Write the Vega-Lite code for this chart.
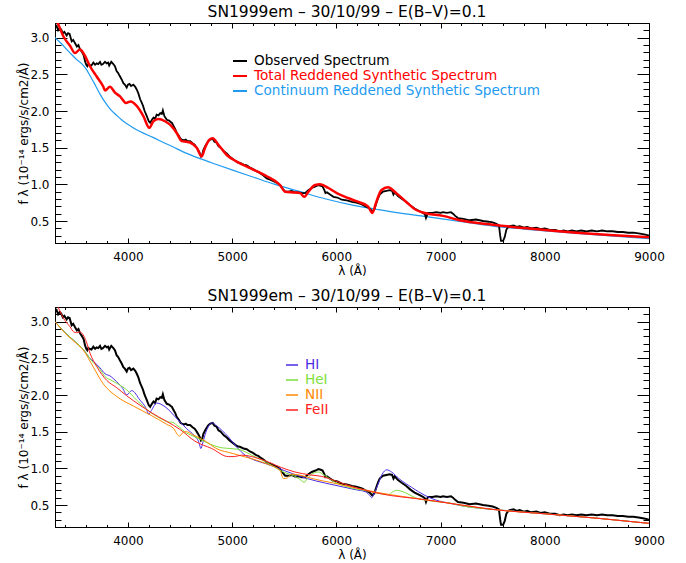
{
 "$schema": "https://vega.github.io/schema/vega-lite/v6.json",
 "padding": {"left": 16, "top": 4, "right": 5, "bottom": 5},
 "spacing": 64,
 "bounds": "flush",
 "resolve": {"scale": {"color": "independent"}, "legend": {"color": "independent"}},
 "config": {
  "font": "DejaVu Sans",
  "view": {"stroke": "#000", "strokeWidth": 1},
  "axis": {"labelFont": "DejaVu Sans", "labelFontSize": 12, "labelColor": "#000", "titleFont": "DejaVu Sans", "titleFontSize": 12, "titleFontWeight": "normal", "titleColor": "#000", "domain": true, "domainColor": "#000", "domainWidth": 1, "ticks": true, "tickColor": "#000", "tickWidth": 1, "grid": false, "tickSize": 5, "labelFlush": false, "labelOverlap": false, "labelBound": false},
  "title": {"font": "DejaVu Sans", "fontSize": 15.5, "fontWeight": "normal", "color": "#000", "offset": 2, "dx": -5},
  "legend": {"orient": "none", "title": null, "symbolType": "stroke", "symbolStrokeWidth": 2, "labelFont": "DejaVu Sans", "labelFontSize": 13.6, "labelOffset": 6, "labelLimit": 0, "rowPadding": -1, "padding": 0}
 },
 "datasets": {
  "obs": [
   {"w":3300,"f":3.14},{"w":3315,"f":3.16},{"w":3330,"f":3.10},{"w":3345,"f":3.13},{"w":3360,"f":3.11},{"w":3375,"f":3.06},{"w":3390,"f":3.08},{"w":3412,"f":3.03},{"w":3425,"f":3.06},{"w":3440,"f":3.05},{"w":3460,"f":2.95},{"w":3475,"f":2.97},{"w":3490,"f":2.93},{"w":3510,"f":2.88},{"w":3525,"f":2.90},{"w":3540,"f":2.84},{"w":3560,"f":2.80},{"w":3575,"f":2.76},{"w":3588,"f":2.68},{"w":3600,"f":2.63},{"w":3610,"f":2.61},{"w":3620,"f":2.64},{"w":3630,"f":2.63},{"w":3650,"f":2.62},{"w":3668,"f":2.66},{"w":3685,"f":2.63},{"w":3700,"f":2.65},{"w":3715,"f":2.64},{"w":3732,"f":2.67},{"w":3745,"f":2.63},{"w":3760,"f":2.64},{"w":3780,"f":2.67},{"w":3796,"f":2.65},{"w":3810,"f":2.66},{"w":3820,"f":2.62},{"w":3840,"f":2.67},{"w":3860,"f":2.64},{"w":3875,"f":2.61},{"w":3892,"f":2.54},{"w":3905,"f":2.52},{"w":3920,"f":2.48},{"w":3940,"f":2.43},{"w":3956,"f":2.38},{"w":3970,"f":2.36},{"w":3988,"f":2.32},{"w":4000,"f":2.36},{"w":4015,"f":2.37},{"w":4030,"f":2.34},{"w":4052,"f":2.36},{"w":4070,"f":2.33},{"w":4085,"f":2.29},{"w":4100,"f":2.24},{"w":4117,"f":2.16},{"w":4130,"f":2.12},{"w":4145,"f":2.07},{"w":4160,"f":2.00},{"w":4181,"f":1.93},{"w":4200,"f":1.86},{"w":4213,"f":1.84},{"w":4230,"f":1.88},{"w":4245,"f":1.91},{"w":4260,"f":1.89},{"w":4275,"f":1.95},{"w":4293,"f":1.94},{"w":4310,"f":1.97},{"w":4325,"f":1.96},{"w":4335,"f":2.01},{"w":4350,"f":1.93},{"w":4373,"f":1.88},{"w":4395,"f":1.87},{"w":4410,"f":1.85},{"w":4421,"f":1.84},{"w":4440,"f":1.79},{"w":4455,"f":1.75},{"w":4469,"f":1.70},{"w":4490,"f":1.66},{"w":4505,"f":1.62},{"w":4517,"f":1.61},{"w":4540,"f":1.60},{"w":4555,"f":1.61},{"w":4570,"f":1.59},{"w":4596,"f":1.59},{"w":4620,"f":1.56},{"w":4640,"f":1.54},{"w":4660,"f":1.50},{"w":4685,"f":1.44},{"w":4701,"f":1.38},{"w":4712,"f":1.40},{"w":4724,"f":1.47},{"w":4745,"f":1.53},{"w":4772,"f":1.59},{"w":4790,"f":1.61},{"w":4813,"f":1.62},{"w":4830,"f":1.58},{"w":4850,"f":1.57},{"w":4868,"f":1.52},{"w":4890,"f":1.50},{"w":4920,"f":1.45},{"w":4948,"f":1.42},{"w":4975,"f":1.38},{"w":5012,"f":1.34},{"w":5030,"f":1.32},{"w":5050,"f":1.30},{"w":5080,"f":1.29},{"w":5110,"f":1.27},{"w":5140,"f":1.26},{"w":5170,"f":1.23},{"w":5200,"f":1.21},{"w":5230,"f":1.18},{"w":5250,"f":1.17},{"w":5268,"f":1.15},{"w":5300,"f":1.12},{"w":5332,"f":1.08},{"w":5370,"f":1.06},{"w":5400,"f":1.04},{"w":5430,"f":1.02},{"w":5460,"f":0.99},{"w":5485,"f":0.94},{"w":5508,"f":0.90},{"w":5540,"f":0.90},{"w":5570,"f":0.91},{"w":5600,"f":0.89},{"w":5640,"f":0.89},{"w":5668,"f":0.88},{"w":5700,"f":0.88},{"w":5730,"f":0.92},{"w":5764,"f":0.95},{"w":5800,"f":0.97},{"w":5828,"f":0.99},{"w":5850,"f":0.98},{"w":5868,"f":0.97},{"w":5885,"f":0.92},{"w":5895,"f":0.88},{"w":5910,"f":0.89},{"w":5940,"f":0.86},{"w":5972,"f":0.83},{"w":6010,"f":0.82},{"w":6052,"f":0.79},{"w":6100,"f":0.78},{"w":6150,"f":0.76},{"w":6191,"f":0.75},{"w":6240,"f":0.73},{"w":6280,"f":0.70},{"w":6320,"f":0.67},{"w":6345,"f":0.63},{"w":6365,"f":0.66},{"w":6383,"f":0.74},{"w":6400,"f":0.81},{"w":6416,"f":0.86},{"w":6448,"f":0.90},{"w":6480,"f":0.91},{"w":6512,"f":0.92},{"w":6535,"f":0.91},{"w":6548,"f":0.86},{"w":6560,"f":0.89},{"w":6591,"f":0.84},{"w":6630,"f":0.80},{"w":6671,"f":0.76},{"w":6710,"f":0.71},{"w":6751,"f":0.67},{"w":6790,"f":0.64},{"w":6831,"f":0.61},{"w":6850,"f":0.59},{"w":6860,"f":0.54},{"w":6870,"f":0.58},{"w":6879,"f":0.61},{"w":6920,"f":0.61},{"w":6959,"f":0.62},{"w":7000,"f":0.61},{"w":7023,"f":0.62},{"w":7060,"f":0.61},{"w":7100,"f":0.62},{"w":7119,"f":0.60},{"w":7140,"f":0.57},{"w":7167,"f":0.54},{"w":7220,"f":0.53},{"w":7279,"f":0.51},{"w":7340,"f":0.52},{"w":7407,"f":0.50},{"w":7460,"f":0.49},{"w":7500,"f":0.48},{"w":7535,"f":0.46},{"w":7560,"f":0.44},{"w":7572,"f":0.30},{"w":7580,"f":0.23},{"w":7600,"f":0.23},{"w":7615,"f":0.28},{"w":7631,"f":0.38},{"w":7650,"f":0.42},{"w":7663,"f":0.43},{"w":7700,"f":0.44},{"w":7730,"f":0.42},{"w":7759,"f":0.43},{"w":7800,"f":0.41},{"w":7830,"f":0.42},{"w":7870,"f":0.40},{"w":7919,"f":0.41},{"w":7960,"f":0.39},{"w":8000,"f":0.40},{"w":8047,"f":0.38},{"w":8100,"f":0.38},{"w":8143,"f":0.36},{"w":8180,"f":0.37},{"w":8220,"f":0.36},{"w":8260,"f":0.37},{"w":8303,"f":0.36},{"w":8350,"f":0.37},{"w":8400,"f":0.36},{"w":8450,"f":0.37},{"w":8500,"f":0.36},{"w":8550,"f":0.37},{"w":8600,"f":0.36},{"w":8650,"f":0.36},{"w":8700,"f":0.35},{"w":8750,"f":0.35},{"w":8800,"f":0.34},{"w":8850,"f":0.34},{"w":8900,"f":0.33},{"w":8940,"f":0.32},{"w":8975,"f":0.31},{"w":9000,"f":0.30}
  ],
  "tot": [
   {"w":3310,"f":3.25},{"w":3332,"f":3.18},{"w":3380,"f":3.02},{"w":3444,"f":2.89},{"w":3492,"f":2.79},{"w":3540,"f":2.84},{"w":3588,"f":2.75},{"w":3636,"f":2.61},{"w":3700,"f":2.47},{"w":3764,"f":2.33},{"w":3780,"f":2.28},{"w":3828,"f":2.33},{"w":3876,"f":2.25},{"w":3924,"f":2.20},{"w":3981,"f":2.11},{"w":4026,"f":2.13},{"w":4084,"f":2.07},{"w":4148,"f":1.93},{"w":4205,"f":1.77},{"w":4244,"f":1.86},{"w":4292,"f":1.89},{"w":4356,"f":1.86},{"w":4420,"f":1.79},{"w":4468,"f":1.70},{"w":4516,"f":1.59},{"w":4560,"f":1.58},{"w":4596,"f":1.57},{"w":4660,"f":1.50},{"w":4708,"f":1.38},{"w":4740,"f":1.50},{"w":4782,"f":1.61},{"w":4813,"f":1.63},{"w":4868,"f":1.54},{"w":4948,"f":1.40},{"w":5044,"f":1.31},{"w":5172,"f":1.22},{"w":5332,"f":1.11},{"w":5460,"f":0.99},{"w":5508,"f":0.90},{"w":5588,"f":0.89},{"w":5652,"f":0.88},{"w":5692,"f":0.83},{"w":5732,"f":0.90},{"w":5796,"f":0.99},{"w":5844,"f":1.00},{"w":5924,"f":0.95},{"w":6004,"f":0.88},{"w":6068,"f":0.84},{"w":6191,"f":0.77},{"w":6303,"f":0.70},{"w":6345,"f":0.61},{"w":6383,"f":0.76},{"w":6431,"f":0.92},{"w":6495,"f":0.96},{"w":6575,"f":0.88},{"w":6671,"f":0.76},{"w":6767,"f":0.65},{"w":6847,"f":0.61},{"w":7023,"f":0.57},{"w":7183,"f":0.51},{"w":7503,"f":0.45},{"w":7823,"f":0.40},{"w":8303,"f":0.34},{"w":8623,"f":0.31},{"w":9000,"f":0.28}
  ],
  "cont": [
   {"w":3300,"f":3.00},{"w":3360,"f":2.92},{"w":3412,"f":2.84},{"w":3460,"f":2.77},{"w":3508,"f":2.70},{"w":3560,"f":2.64},{"w":3600,"f":2.57},{"w":3636,"f":2.48},{"w":3680,"f":2.37},{"w":3732,"f":2.23},{"w":3780,"f":2.12},{"w":3828,"f":2.03},{"w":3892,"f":1.94},{"w":3956,"f":1.86},{"w":4030,"f":1.79},{"w":4116,"f":1.72},{"w":4240,"f":1.64},{"w":4372,"f":1.55},{"w":4435,"f":1.51},{"w":4520,"f":1.45},{"w":4692,"f":1.35},{"w":4850,"f":1.27},{"w":5012,"f":1.19},{"w":5200,"f":1.10},{"w":5411,"f":1.00},{"w":5652,"f":0.90},{"w":5900,"f":0.80},{"w":6179,"f":0.71},{"w":6383,"f":0.66},{"w":6600,"f":0.61},{"w":6863,"f":0.56},{"w":7200,"f":0.49},{"w":7503,"f":0.43},{"w":7800,"f":0.39},{"w":8143,"f":0.35},{"w":8500,"f":0.31},{"w":9000,"f":0.26}
  ],
  "hi": [
   {"w":3300,"f":3.00},{"w":3412,"f":2.83},{"w":3508,"f":2.71},{"w":3572,"f":2.62},{"w":3636,"f":2.50},{"w":3668,"f":2.46},{"w":3732,"f":2.37},{"w":3780,"f":2.29},{"w":3828,"f":2.26},{"w":3892,"f":2.18},{"w":3950,"f":2.09},{"w":3988,"f":2.00},{"w":4036,"f":2.06},{"w":4116,"f":1.93},{"w":4170,"f":1.83},{"w":4200,"f":1.74},{"w":4225,"f":1.79},{"w":4276,"f":1.89},{"w":4356,"f":1.84},{"w":4468,"f":1.68},{"w":4564,"f":1.54},{"w":4640,"f":1.44},{"w":4680,"f":1.36},{"w":4700,"f":1.27},{"w":4715,"f":1.33},{"w":4740,"f":1.46},{"w":4772,"f":1.57},{"w":4810,"f":1.62},{"w":4850,"f":1.58},{"w":4963,"f":1.43},{"w":5050,"f":1.28},{"w":5123,"f":1.18},{"w":5219,"f":1.11},{"w":5332,"f":1.06},{"w":5500,"f":0.97},{"w":5652,"f":0.89},{"w":5800,"f":0.83},{"w":5987,"f":0.77},{"w":6180,"f":0.71},{"w":6280,"f":0.68},{"w":6320,"f":0.63},{"w":6339,"f":0.60},{"w":6360,"f":0.65},{"w":6402,"f":0.79},{"w":6440,"f":0.92},{"w":6483,"f":0.98},{"w":6530,"f":0.95},{"w":6600,"f":0.86},{"w":6723,"f":0.74},{"w":6851,"f":0.63},{"w":6950,"f":0.57},{"w":7100,"f":0.52},{"w":7200,"f":0.49},{"w":7500,"f":0.44},{"w":8000,"f":0.38},{"w":8500,"f":0.32},{"w":9000,"f":0.25}
  ],
  "hei": [
   {"w":3300,"f":3.00},{"w":3412,"f":2.83},{"w":3508,"f":2.71},{"w":3572,"f":2.62},{"w":3668,"f":2.44},{"w":3732,"f":2.35},{"w":3780,"f":2.25},{"w":3828,"f":2.21},{"w":3892,"f":2.16},{"w":3988,"f":2.07},{"w":4084,"f":1.93},{"w":4212,"f":1.77},{"w":4340,"f":1.66},{"w":4400,"f":1.63},{"w":4420,"f":1.63},{"w":4468,"f":1.59},{"w":4564,"f":1.48},{"w":4643,"f":1.43},{"w":4756,"f":1.35},{"w":4900,"f":1.28},{"w":5059,"f":1.26},{"w":5200,"f":1.17},{"w":5332,"f":1.08},{"w":5492,"f":0.95},{"w":5588,"f":0.90},{"w":5640,"f":0.86},{"w":5667,"f":0.83},{"w":5690,"f":0.81},{"w":5732,"f":0.88},{"w":5790,"f":0.94},{"w":5827,"f":0.95},{"w":5880,"f":0.91},{"w":5924,"f":0.87},{"w":5987,"f":0.81},{"w":6100,"f":0.75},{"w":6300,"f":0.69},{"w":6402,"f":0.66},{"w":6498,"f":0.64},{"w":6540,"f":0.68},{"w":6579,"f":0.70},{"w":6659,"f":0.67},{"w":6755,"f":0.60},{"w":6883,"f":0.56},{"w":7000,"f":0.54},{"w":7080,"f":0.53},{"w":7139,"f":0.51},{"w":7200,"f":0.49},{"w":7500,"f":0.44},{"w":8000,"f":0.38},{"w":8500,"f":0.32},{"w":9000,"f":0.25}
  ],
  "nii": [
   {"w":3300,"f":3.00},{"w":3412,"f":2.82},{"w":3508,"f":2.70},{"w":3572,"f":2.61},{"w":3668,"f":2.38},{"w":3764,"f":2.15},{"w":3892,"f":1.98},{"w":4051,"f":1.85},{"w":4212,"f":1.73},{"w":4372,"f":1.60},{"w":4440,"f":1.54},{"w":4470,"f":1.47},{"w":4495,"f":1.44},{"w":4530,"f":1.49},{"w":4560,"f":1.50},{"w":4620,"f":1.46},{"w":4756,"f":1.36},{"w":4835,"f":1.28},{"w":5012,"f":1.20},{"w":5332,"f":1.06},{"w":5460,"f":0.97},{"w":5491,"f":0.86},{"w":5530,"f":0.87},{"w":5571,"f":0.92},{"w":5640,"f":0.91},{"w":5720,"f":0.88},{"w":5800,"f":0.85},{"w":5972,"f":0.80},{"w":6068,"f":0.77},{"w":6400,"f":0.67},{"w":6863,"f":0.57},{"w":7200,"f":0.50},{"w":7500,"f":0.44},{"w":8000,"f":0.38},{"w":8500,"f":0.32},{"w":9000,"f":0.25}
  ],
  "feii": [
   {"w":3310,"f":3.25},{"w":3332,"f":3.19},{"w":3380,"f":3.05},{"w":3444,"f":2.93},{"w":3480,"f":2.86},{"w":3508,"f":2.85},{"w":3540,"f":2.86},{"w":3570,"f":2.82},{"w":3600,"f":2.73},{"w":3636,"f":2.57},{"w":3700,"f":2.39},{"w":3796,"f":2.20},{"w":3892,"f":2.10},{"w":3988,"f":1.99},{"w":4116,"f":1.86},{"w":4212,"f":1.77},{"w":4372,"f":1.64},{"w":4500,"f":1.53},{"w":4643,"f":1.37},{"w":4804,"f":1.27},{"w":4963,"f":1.16},{"w":5020,"f":1.16},{"w":5091,"f":1.18},{"w":5283,"f":1.12},{"w":5475,"f":1.01},{"w":5603,"f":0.95},{"w":5750,"f":0.91},{"w":5859,"f":0.89},{"w":5987,"f":0.83},{"w":6179,"f":0.74},{"w":6400,"f":0.66},{"w":6863,"f":0.57},{"w":7200,"f":0.50},{"w":7500,"f":0.44},{"w":8000,"f":0.38},{"w":8500,"f":0.32},{"w":9000,"f":0.25}
  ]
 },
 "vconcat": [
  {
   "width": 594, "height": 220,
   "title": "SN1999em – 30/10/99 – E(B–V)=0.1",
   "resolve": {"axis": {"x": "independent", "y": "independent"}},
   "layer": [
    {
     "data": {"name": "cont"},
     "mark": {"type": "line", "strokeWidth": 1.2, "clip": true, "interpolate": "monotone"},
     "encoding": {
      "x": {"field": "w", "type": "quantitative", "scale": {"domain": [3300, 9000], "nice": false, "zero": false},
            "axis": {"orient": "bottom", "values": [3400,3600,3800,4000,4200,4400,4600,4800,5000,5200,5400,5600,5800,6000,6200,6400,6600,6800,7000,7200,7400,7600,7800,8000,8200,8400,8600,8800,9000], "format": "d", "labelExpr": "datum.value % 1000 === 0 ? datum.label : ''", "title": "λ (Å)", "labelPadding": 3, "titlePadding": 3,
                     "encoding": {"ticks": {"y2": {"condition": {"test": "datum.value % 1000 === 0", "value": -5}, "value": -2.5}}}}},
      "y": {"field": "f", "type": "quantitative", "scale": {"domain": [0.2, 3.2], "nice": false, "zero": false},
            "axis": {"orient": "left", "values": [0.3,0.4,0.5,0.6,0.7,0.8,0.9,1.0,1.1,1.2,1.3,1.4,1.5,1.6,1.7,1.8,1.9,2.0,2.1,2.2,2.3,2.4,2.5,2.6,2.7,2.8,2.9,3.0,3.1], "labelExpr": "datum.value % 0.5 === 0 ? format(datum.value, '.1f') : ''", "title": "f λ (10⁻¹⁴ ergs/s/cm2/Å)", "labelPadding": 1, "titleX": -32, "titleBaseline": "middle",
                     "encoding": {"ticks": {"x2": {"condition": {"test": "datum.value % 0.5 === 0", "value": 12}, "value": 6}}}}},
      "color": {"datum": "Continuum Reddened Synthetic Spectrum", "type": "nominal",
                "scale": {"domain": ["Observed Spectrum", "Total Reddened Synthetic Spectrum", "Continuum Reddened Synthetic Spectrum"], "range": ["#000000", "#ff0000", "#1e9bf0"]},
                "legend": {"legendX": 177, "legendY": 30, "symbolSize": 196, "rowPadding": -0.5,
                           "labelColor": {"expr": "datum.value === 'Observed Spectrum' ? '#000000' : datum.value === 'Total Reddened Synthetic Spectrum' ? '#ff0000' : '#1e9bf0'"}}}
     }
    },
    {
     "data": {"name": "obs"},
     "mark": {"type": "line", "strokeWidth": 1.8, "clip": true},
     "encoding": {
      "x": {"field": "w", "type": "quantitative", "scale": {"domain": [3300, 9000], "nice": false, "zero": false},
            "axis": {"orient": "top", "values": [3400,3600,3800,4000,4200,4400,4600,4800,5000,5200,5400,5600,5800,6000,6200,6400,6600,6800,7000,7200,7400,7600,7800,8000,8200,8400,8600,8800,9000], "labels": false, "title": null,
                     "encoding": {"ticks": {"y2": {"condition": {"test": "datum.value % 1000 === 0", "value": 5}, "value": 2.5}}}}},
      "y": {"field": "f", "type": "quantitative", "scale": {"domain": [0.2, 3.2], "nice": false, "zero": false},
            "axis": {"orient": "right", "values": [0.3,0.4,0.5,0.6,0.7,0.8,0.9,1.0,1.1,1.2,1.3,1.4,1.5,1.6,1.7,1.8,1.9,2.0,2.1,2.2,2.3,2.4,2.5,2.6,2.7,2.8,2.9,3.0,3.1], "labels": false, "title": null,
                     "encoding": {"ticks": {"x2": {"condition": {"test": "datum.value % 0.5 === 0", "value": -12}, "value": -6}}}}},
      "color": {"datum": "Observed Spectrum", "type": "nominal"}
     }
    },
    {
     "data": {"name": "tot"},
     "mark": {"type": "line", "strokeWidth": 2.5, "clip": true, "interpolate": "monotone"},
     "encoding": {
      "x": {"field": "w", "type": "quantitative", "axis": null},
      "y": {"field": "f", "type": "quantitative", "axis": null},
      "color": {"datum": "Total Reddened Synthetic Spectrum", "type": "nominal"}
     }
    }
   ]
  },
  {
   "width": 594, "height": 220,
   "title": "SN1999em – 30/10/99 – E(B–V)=0.1",
   "resolve": {"axis": {"x": "independent", "y": "independent"}},
   "layer": [
    {
     "data": {"name": "obs"},
     "mark": {"type": "line", "strokeWidth": 2, "clip": true, "color": "#000000"},
     "encoding": {
      "x": {"field": "w", "type": "quantitative", "scale": {"domain": [3300, 9000], "nice": false, "zero": false},
            "axis": {"orient": "bottom", "values": [3400,3600,3800,4000,4200,4400,4600,4800,5000,5200,5400,5600,5800,6000,6200,6400,6600,6800,7000,7200,7400,7600,7800,8000,8200,8400,8600,8800,9000], "format": "d", "labelExpr": "datum.value % 1000 === 0 ? datum.label : ''", "title": "λ (Å)", "labelPadding": 3, "titlePadding": 3,
                     "encoding": {"ticks": {"y2": {"condition": {"test": "datum.value % 1000 === 0", "value": -5}, "value": -2.5}}}}},
      "y": {"field": "f", "type": "quantitative", "scale": {"domain": [0.2, 3.2], "nice": false, "zero": false},
            "axis": {"orient": "left", "values": [0.3,0.4,0.5,0.6,0.7,0.8,0.9,1.0,1.1,1.2,1.3,1.4,1.5,1.6,1.7,1.8,1.9,2.0,2.1,2.2,2.3,2.4,2.5,2.6,2.7,2.8,2.9,3.0,3.1], "labelExpr": "datum.value % 0.5 === 0 ? format(datum.value, '.1f') : ''", "title": "f λ (10⁻¹⁴ ergs/s/cm2/Å)", "labelPadding": 1, "titleX": -32, "titleBaseline": "middle",
                     "encoding": {"ticks": {"x2": {"condition": {"test": "datum.value % 0.5 === 0", "value": 12}, "value": 6}}}}}
     }
    },
    {
     "data": {"name": "hi"},
     "mark": {"type": "line", "strokeWidth": 1, "clip": true, "interpolate": "monotone"},
     "encoding": {
      "x": {"field": "w", "type": "quantitative", "scale": {"domain": [3300, 9000], "nice": false, "zero": false},
            "axis": {"orient": "top", "values": [3400,3600,3800,4000,4200,4400,4600,4800,5000,5200,5400,5600,5800,6000,6200,6400,6600,6800,7000,7200,7400,7600,7800,8000,8200,8400,8600,8800,9000], "labels": false, "title": null,
                     "encoding": {"ticks": {"y2": {"condition": {"test": "datum.value % 1000 === 0", "value": 5}, "value": 2.5}}}}},
      "y": {"field": "f", "type": "quantitative", "scale": {"domain": [0.2, 3.2], "nice": false, "zero": false},
            "axis": {"orient": "right", "values": [0.3,0.4,0.5,0.6,0.7,0.8,0.9,1.0,1.1,1.2,1.3,1.4,1.5,1.6,1.7,1.8,1.9,2.0,2.1,2.2,2.3,2.4,2.5,2.6,2.7,2.8,2.9,3.0,3.1], "labels": false, "title": null,
                     "encoding": {"ticks": {"x2": {"condition": {"test": "datum.value % 0.5 === 0", "value": -12}, "value": -6}}}}},
      "color": {"datum": "HI", "type": "nominal",
                "scale": {"domain": ["HI", "HeI", "NII", "FeII"], "range": ["#4b2be6", "#7ee03c", "#ff8a00", "#ff2020"]},
                "legend": {"legendX": 230, "legendY": 51, "symbolSize": 144, "symbolStrokeWidth": 1.5, "rowPadding": 1,
                           "labelColor": {"expr": "datum.value === 'HI' ? '#4b2be6' : datum.value === 'HeI' ? '#7ee03c' : datum.value === 'NII' ? '#ff8a00' : '#ff2020'"}}}
     }
    },
    {
     "data": {"name": "hei"},
     "mark": {"type": "line", "strokeWidth": 1, "clip": true, "interpolate": "monotone"},
     "encoding": {
      "x": {"field": "w", "type": "quantitative", "axis": null},
      "y": {"field": "f", "type": "quantitative", "axis": null},
      "color": {"datum": "HeI", "type": "nominal"}
     }
    },
    {
     "data": {"name": "nii"},
     "mark": {"type": "line", "strokeWidth": 1, "clip": true, "interpolate": "monotone"},
     "encoding": {
      "x": {"field": "w", "type": "quantitative", "axis": null},
      "y": {"field": "f", "type": "quantitative", "axis": null},
      "color": {"datum": "NII", "type": "nominal"}
     }
    },
    {
     "data": {"name": "feii"},
     "mark": {"type": "line", "strokeWidth": 1, "clip": true, "interpolate": "monotone"},
     "encoding": {
      "x": {"field": "w", "type": "quantitative", "axis": null},
      "y": {"field": "f", "type": "quantitative", "axis": null},
      "color": {"datum": "FeII", "type": "nominal"}
     }
    }
   ]
  }
 ]
}
